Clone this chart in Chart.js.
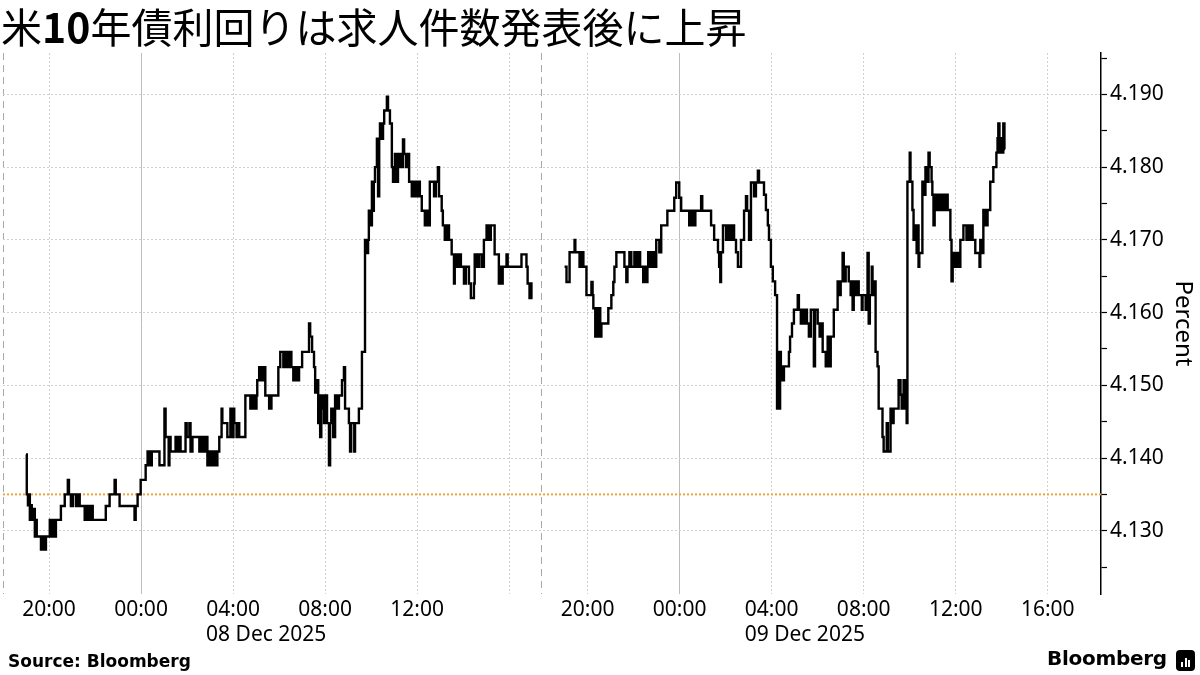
<!DOCTYPE html>
<html>
<head>
<meta charset="utf-8">
<script src="https://cdn.jsdelivr.net/npm/chart.js@4"></script>
<style>
html,body{margin:0;padding:0;background:#fff;}
#wrap{position:relative;width:1200px;height:675px;overflow:hidden;background:#fff;}
#c{position:absolute;left:0;top:0;}
#title{position:absolute;left:1px;top:0px;font-family:"Noto Sans CJK JP";font-size:41px;line-height:50px;color:#000;white-space:nowrap;}
#title b{font-weight:700;}
#src{position:absolute;left:8px;top:650px;font-family:"DejaVu Sans";font-weight:bold;font-size:17px;line-height:22px;color:#000;white-space:nowrap;}
#logo{position:absolute;left:1047px;top:645px;font-family:"DejaVu Sans";font-weight:bold;font-size:20px;line-height:26px;color:#000;white-space:nowrap;letter-spacing:-0.3px;}
#icon{position:absolute;left:1176px;top:650px;width:19px;height:21px;background:#000;border-radius:4px;}
#icon i{position:absolute;bottom:4px;width:2px;background:#fff;}
</style>
</head>
<body>
<div id="wrap">
<canvas id="c" width="1200" height="675"></canvas>
<div id="title">米<b>10</b>年債利回りは求人件数発表後に上昇</div>
<div id="src">Source: Bloomberg</div>
<div id="logo">Bloomberg</div>
<div id="icon"><i style="left:5px;height:5px"></i><i style="left:8.5px;height:9px"></i><i style="left:12px;height:7px"></i></div>
</div>
<script>
// ---- data: US 10-year Treasury yield (percent) ----
// time = minutes after the 18:00 session open
const s1Minutes = [60,62,65,68,70,73,75,81,83,86,88,99,104,107,112,122,127,133,135,138,151,161,169,172,177,182,190,195,200,213,218,224,229,234,268,278,291,294,304,343,346,351,359,372,377,382,388,408,421,424,432,434,437,450,455,460,463,476,479,486,489,494,512,518,523,528,533,538,544,549,554,559,564,570,572,585,593,596,601,603,609,614,616,632,645,650,655,661,663,668,674,679,684,694,700,718,723,731,736,741,746,752,757,762,767,772,780,798,801,806,811,814,819,822,824,827,830,835,837,840,845,850,853,856,861,866,871,876,884,889,892,902,905,908,916,918,928,936,944,947,952,954,957,962,965,967,970,975,978,981,983,988,991,994,1001,1004,1009,1014,1017,1022,1025,1030,1033,1038,1040,1043,1046,1051,1056,1059,1066,1072,1077,1082,1087,1092,1100,1105,1108,1113,1124,1129,1134,1137,1144,1147,1152,1157,1163,1170,1176,1178,1183,1189,1194,1202,1207,1215,1220,1228,1230,1235,1241,1248,1254,1261,1267,1272,1282,1293,1295,1300,1303,1313,1316,1352,1365,1368,1373,1376,1378,1381];
const s1Yield = [4.1405,4.1350,4.1335,4.1350,4.1315,4.1335,4.1315,4.1330,4.1292,4.1315,4.1292,4.1274,4.1292,4.1274,4.1292,4.1315,4.1292,4.1315,4.1292,4.1315,4.1334,4.1350,4.1370,4.1350,4.1334,4.1350,4.1334,4.1350,4.1334,4.1315,4.1334,4.1315,4.1334,4.1315,4.1334,4.1350,4.1370,4.1350,4.1334,4.1315,4.1334,4.1350,4.1370,4.1390,4.1409,4.1390,4.1409,4.1390,4.1468,4.1429,4.1390,4.1429,4.1409,4.1429,4.1409,4.1429,4.1409,4.1448,4.1429,4.1448,4.1409,4.1429,4.1409,4.1429,4.1409,4.1429,4.1390,4.1409,4.1390,4.1409,4.1390,4.1409,4.1429,4.1468,4.1448,4.1429,4.1468,4.1429,4.1468,4.1448,4.1429,4.1448,4.1429,4.1486,4.1468,4.1486,4.1468,4.1486,4.1507,4.1525,4.1507,4.1525,4.1486,4.1468,4.1486,4.1525,4.1546,4.1525,4.1546,4.1525,4.1546,4.1525,4.1507,4.1525,4.1507,4.1525,4.1546,4.1585,4.1567,4.1546,4.1525,4.1490,4.1507,4.1448,4.1486,4.1429,4.1486,4.1468,4.1448,4.1486,4.1448,4.1390,4.1448,4.1468,4.1429,4.1486,4.1468,4.1486,4.1507,4.1525,4.1468,4.1448,4.1409,4.1448,4.1409,4.1448,4.1468,4.1546,4.1700,4.1682,4.1700,4.1740,4.1720,4.1780,4.1740,4.1780,4.1800,4.1839,4.1760,4.1839,4.1860,4.1839,4.1860,4.1878,4.1897,4.1878,4.1860,4.1800,4.1780,4.1818,4.1780,4.1818,4.1800,4.1818,4.1800,4.1838,4.1818,4.1800,4.1818,4.1780,4.1760,4.1780,4.1760,4.1780,4.1760,4.1740,4.1720,4.1740,4.1720,4.1780,4.1760,4.1780,4.1800,4.1760,4.1740,4.1720,4.1700,4.1720,4.1700,4.1680,4.1640,4.1680,4.1663,4.1680,4.1663,4.1640,4.1663,4.1640,4.1620,4.1640,4.1680,4.1663,4.1680,4.1663,4.1700,4.1720,4.1700,4.1720,4.1680,4.1640,4.1663,4.1640,4.1663,4.1680,4.1663,4.1680,4.1663,4.1640,4.1620,4.1640,4.1620,4.1620];

const s2Minutes = [60,65,73,86,88,99,104,109,117,130,133,135,140,143,148,151,153,156,174,182,187,190,195,216,221,224,229,234,242,247,252,257,265,268,273,276,278,283,289,294,299,307,312,328,346,351,359,364,385,390,395,401,416,419,442,450,460,463,466,468,473,481,486,492,497,502,507,512,520,528,533,536,541,546,554,559,564,567,580,585,590,593,598,603,609,614,616,619,622,624,627,632,645,648,653,658,668,671,676,681,687,689,692,697,702,710,713,720,725,731,733,741,744,746,749,754,762,772,775,780,785,788,793,801,806,809,811,814,819,822,827,835,837,845,848,850,853,856,861,863,869,871,876,879,889,892,900,903,910,913,918,931,936,939,944,949,952,954,960,962,967,970,975,978,980,983,985,993,996,1001,1004,1009,1012,1017,1019,1022,1025,1027,1032,1038,1043,1048,1053,1059,1066,1069,1072,1077,1082,1087,1092,1100,1108,1113,1118,1121,1124,1131,1142,1144,1150,1152,1157,1163,1170,1178,1186,1189,1191,1194,1199,1202,1204,1207,1209];
const s2Yield = [4.1663,4.1642,4.1683,4.1700,4.1683,4.1663,4.1683,4.1663,4.1624,4.1642,4.1624,4.1606,4.1567,4.1606,4.1567,4.1606,4.1567,4.1585,4.1606,4.1624,4.1642,4.1663,4.1683,4.1663,4.1642,4.1663,4.1683,4.1663,4.1683,4.1663,4.1683,4.1663,4.1642,4.1663,4.1642,4.1663,4.1683,4.1663,4.1683,4.1663,4.1700,4.1683,4.1720,4.1740,4.1758,4.1779,4.1758,4.1740,4.1720,4.1740,4.1720,4.1740,4.1760,4.1740,4.1720,4.1700,4.1683,4.1663,4.1642,4.1683,4.1720,4.1700,4.1720,4.1700,4.1720,4.1700,4.1683,4.1663,4.1700,4.1740,4.1760,4.1740,4.1700,4.1779,4.1760,4.1779,4.1795,4.1779,4.1762,4.1741,4.1720,4.1700,4.1663,4.1643,4.1624,4.1468,4.1546,4.1468,4.1546,4.1526,4.1507,4.1526,4.1546,4.1567,4.1585,4.1604,4.1624,4.1604,4.1585,4.1604,4.1585,4.1604,4.1585,4.1567,4.1604,4.1526,4.1604,4.1585,4.1567,4.1585,4.1546,4.1526,4.1546,4.1567,4.1526,4.1567,4.1604,4.1643,4.1624,4.1643,4.1682,4.1643,4.1663,4.1643,4.1624,4.1643,4.1604,4.1643,4.1624,4.1643,4.1624,4.1604,4.1624,4.1604,4.1624,4.1682,4.1585,4.1624,4.1663,4.1624,4.1643,4.1546,4.1526,4.1468,4.1429,4.1409,4.1448,4.1409,4.1468,4.1448,4.1468,4.1507,4.1487,4.1468,4.1507,4.1468,4.1448,4.1780,4.1820,4.1780,4.1741,4.1700,4.1720,4.1682,4.1720,4.1663,4.1682,4.1780,4.1762,4.1800,4.1780,4.1820,4.1800,4.1780,4.1762,4.1720,4.1762,4.1741,4.1762,4.1741,4.1762,4.1741,4.1762,4.1741,4.1700,4.1643,4.1682,4.1663,4.1682,4.1663,4.1700,4.1720,4.1700,4.1720,4.1700,4.1720,4.1700,4.1682,4.1663,4.1700,4.1682,4.1741,4.1720,4.1741,4.1780,4.1800,4.1820,4.1840,4.1860,4.1820,4.1840,4.1820,4.1860,4.1825,4.1825];

const referenceLevel = 4.135;           // dotted orange level
const tickClock = ["20:00","00:00","04:00","08:00","12:00","16:00"];
const s1TickShown = [true,true,true,true,true,false];
const s2TickShown = [true,true,true,true,true,true];
const dateLabels = ["08 Dec 2025","09 Dec 2025"];
const dateAnchorClock = "04:00";
const yMajorStep = 0.010, yMinorStep = 0.005;
const yMin = 4.1213, yMax = 4.1957;

// ---- axis geometry (hours on a broken session axis) ----
const OPEN = 18*60;
const SESSION2_START = 23.407;   // where the 18:00 Dec 8 session begins on the axis
const X_MAX = 47.72;
function minutesFromClock(s){const [h,m]=s.split(':').map(Number);return ((h*60+m)-OPEN+1440)%1440;}
function axisPos(session, minutes){return (session===1?0:SESSION2_START)+minutes/60;}

const xTicks = [{v:0,label:'',kind:'edge'}];
tickClock.forEach((t,i)=>xTicks.push({v:axisPos(1,minutesFromClock(t)),label:s1TickShown[i]?t:'',kind:t==='00:00'?'mid':'hour'}));
xTicks.push({v:SESSION2_START,label:'',kind:'edge'});
tickClock.forEach((t,i)=>xTicks.push({v:axisPos(2,minutesFromClock(t)),label:s2TickShown[i]?t:'',kind:t==='00:00'?'mid':'hour'}));
const dateTicks = [axisPos(1,minutesFromClock(dateAnchorClock)),axisPos(2,minutesFromClock(dateAnchorClock))];

const yTickVals=[];
for(let k=Math.ceil(yMin/yMinorStep);k*yMinorStep<=yMax+1e-9;k++) yTickVals.push(+(k*yMinorStep).toFixed(3));
const isMajor=v=>Math.abs(Math.round(v/yMajorStep)*yMajorStep-v)<1e-6;

const s1 = s1Minutes.map((m,i)=>({x:axisPos(1,m),y:s1Yield[i]}));
const s2 = s2Minutes.map((m,i)=>({x:axisPos(2,m),y:s2Yield[i]}));

const FONT = {family:'"Noto Sans", sans-serif', size:21};

new Chart(document.getElementById('c'),{
  type:'line',
  data:{datasets:[
    {data:[{x:0,y:referenceLevel},{x:X_MAX,y:referenceLevel}],borderColor:'#f2a53a',borderWidth:2,borderDash:[2,2],pointRadius:0,order:3},
    {data:s1,borderColor:'#000',borderWidth:2.4,pointRadius:0,stepped:'before',order:1},
    {data:s2,borderColor:'#000',borderWidth:2.4,pointRadius:0,stepped:'before',order:1}
  ]},
  options:{
    responsive:false,animation:false,devicePixelRatio:1,
    layout:{padding:{top:53,left:0,right:0,bottom:0}},
    plugins:{legend:{display:false},tooltip:{enabled:false},title:{display:false}},
    scales:{
      x:{type:'linear',position:'bottom',min:0,max:X_MAX,weight:0,
        afterBuildTicks:s=>{s.ticks=xTicks.map(t=>({value:t.v}));},
        afterFit:s=>{s.height=28;},
        ticks:{autoSkip:false,maxRotation:0,minRotation:0,padding:3,color:'#000',font:FONT,
          callback:(v,i)=>xTicks[i]?xTicks[i].label:''},
        grid:{drawTicks:false,lineWidth:1,
          color:c=>{const t=xTicks[c.index];if(!t)return '#ccc';return t.kind==='edge'?'#a8a8a8':t.kind==='mid'?'#bdbdbd':'#cfcfcf';}},
        border:{display:false,
          dash:c=>{const t=xTicks[c.index];if(!t)return [];return t.kind==='edge'?[7,5]:t.kind==='mid'?[]:[2,2];}}
      },
      x2:{type:'linear',position:'bottom',min:0,max:X_MAX,weight:1,
        afterBuildTicks:s=>{s.ticks=dateTicks.map(v=>({value:v}));},
        afterFit:s=>{s.height=53;},
        ticks:{autoSkip:false,maxRotation:0,minRotation:0,padding:0,align:'start',labelOffset:-27,color:'#000',font:FONT,
          callback:(v,i)=>dateLabels[i]||''},
        grid:{display:false,drawTicks:false},
        border:{display:false}
      },
      y:{type:'linear',position:'right',min:yMin,max:yMax,
        afterBuildTicks:s=>{s.ticks=yTickVals.map(v=>({value:v}));},
        afterFit:s=>{s.width=99;},
        ticks:{autoSkip:false,padding:3,color:'#000',font:FONT,
          callback:v=>isMajor(v)?v.toFixed(3):''},
        grid:{drawTicks:true,tickLength:6,tickColor:'#000',tickWidth:1.2,lineWidth:1,
          color:c=>(c.tick&&isMajor(c.tick.value))?'#cfcfcf':'rgba(0,0,0,0)'},
        border:{display:true,color:'#000',width:1.5,dash:[2,2]},
        title:{display:true,text:'Percent',color:'#000',font:{family:'"Noto Sans", sans-serif',size:24},padding:{top:3,bottom:0}}
      }
    }
  }
});
</script>
</body>
</html>
